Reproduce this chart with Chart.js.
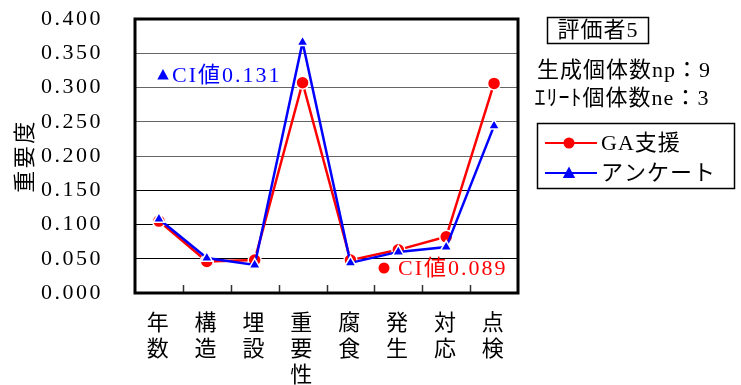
<!DOCTYPE html>
<html>
<head>
<meta charset="utf-8">
<script src="https://cdn.jsdelivr.net/npm/chart.js@4/dist/chart.umd.min.js"></script>
<style>
  html, body { margin: 0; padding: 0; background: #fff; }
  #wrap { width: 741px; height: 385px; }
</style>
</head>
<body>
<div id="wrap"><canvas id="c" width="741" height="385"></canvas></div>
<script>
// Evaluation items (written vertically, one character per line)
const categories = [
  ['年', '数'], ['構', '造'], ['埋', '設'], ['重', '要', '性'],
  ['腐', '食'], ['発', '生'], ['対', '応'], ['点', '検']
];
// Importance weights per item
const gaSupport = [0.105, 0.046, 0.048, 0.307, 0.048, 0.063, 0.082, 0.306];
const survey    = [0.108, 0.051, 0.041, 0.366, 0.044, 0.060, 0.067, 0.244];
// Consistency index of each method
const ciGA = 0.089;
const ciSurvey = 0.131;
// Vertical axis range
const yMin = 0, yMax = 0.4, yStep = 0.05;
// Side panel texts
const evaluatorLabel = '評価者5';
const infoLines = ['生成個体数np：9', 'ｴﾘｰﾄ個体数ne：3'];
const seriesNames = ['GA支援', 'アンケート'];

const RED = '#ff0000', BLUE = '#0000ff';
const SERIF = "'Liberation Serif', 'Noto Sans CJK JP', serif";
const SANS_JP = "'Noto Sans CJK JP', sans-serif";

function drawMarker(ctx, style, x, y, r, color) {
  ctx.save();
  ctx.fillStyle = color;
  ctx.beginPath();
  if (style === 'circle') {
    ctx.arc(x, y, r, 0, Math.PI * 2);
  } else {
    ctx.moveTo(x, y - r);
    ctx.lineTo(x + r * 0.95, y + r * 0.75);
    ctx.lineTo(x - r * 0.95, y + r * 0.75);
    ctx.closePath();
  }
  ctx.fill();
  ctx.restore();
}

const decorations = {
  id: 'decorations',
  beforeDraw(chart) {
    // wider spacing for the axis numerals
    chart.ctx.letterSpacing = '2.5px';
  },
  beforeDatasetsDraw(chart) {
    const { ctx, chartArea: a, scales: { x } } = chart;
    ctx.letterSpacing = '0px';
    // short inward tick marks between categories
    ctx.save();
    ctx.strokeStyle = '#333';
    ctx.lineWidth = 1.5;
    for (let i = 0; i < categories.length - 1; i++) {
      const px = Math.round((x.getPixelForValue(i) + x.getPixelForValue(i + 1)) / 2) + 0.5;
      ctx.beginPath();
      ctx.moveTo(px, a.bottom);
      ctx.lineTo(px, a.bottom - 8);
      ctx.stroke();
    }
    ctx.restore();
  },
  afterDraw(chart) {
    const { ctx, chartArea: a } = chart;
    ctx.save();
    // plot frame
    ctx.strokeStyle = '#000';
    ctx.lineWidth = 3;
    ctx.strokeRect(a.left, a.top, a.right - a.left, a.bottom - a.top);

    ctx.letterSpacing = '2px';
    ctx.textBaseline = 'middle';
    ctx.font = '22px ' + SERIF;

    // consistency index notes
    drawMarker(ctx, 'triangle', a.left + 28, 75, 6, BLUE);
    ctx.fillStyle = BLUE;
    ctx.textAlign = 'left';
    ctx.fillText('CI値' + ciSurvey.toFixed(3), a.left + 37, 76);
    drawMarker(ctx, 'circle', a.left + 249, 268, 5.5, RED);
    ctx.fillStyle = RED;
    ctx.fillText('CI値' + ciGA.toFixed(3), a.left + 263, 269);

    // evaluator box
    ctx.letterSpacing = '1px';
    ctx.fillStyle = '#000';
    ctx.strokeStyle = '#000';
    ctx.lineWidth = 1.5;
    ctx.strokeRect(547.5, 17.5, 101, 26);
    ctx.textAlign = 'center';
    ctx.fillText(evaluatorLabel, 598, 31);
    ctx.fillText(infoLines[0], 624, 71);
    ctx.fillText(infoLines[1], 622, 99);

    // legend
    ctx.strokeRect(537.5, 123.5, 197, 65);
    ctx.textAlign = 'left';
    const rows = [143, 173];
    chart.data.datasets.forEach((ds, i) => {
      const y = rows[i];
      ctx.strokeStyle = ds.borderColor;
      ctx.lineWidth = 2;
      ctx.beginPath();
      ctx.moveTo(545, y);
      ctx.lineTo(597, y);
      ctx.stroke();
      drawMarker(ctx, ds.pointStyle, 569, y, ds.pointStyle === 'circle' ? 5.5 : 6.5, ds.borderColor);
      ctx.fillStyle = '#000';
      ctx.fillText(ds.label, 601, y + 1);
    });
    ctx.restore();
  }
};

new Chart(document.getElementById('c'), {
  type: 'line',
  data: {
    labels: categories,
    datasets: [
      {
        label: seriesNames[0],
        data: gaSupport,
        borderColor: RED,
        backgroundColor: RED,
        borderWidth: 2.5,
        pointStyle: 'circle',
        pointRadius: 6.5,
        pointBorderColor: '#fff',
        pointBorderWidth: 1.5,
        tension: 0,
        order: 2
      },
      {
        label: seriesNames[1],
        data: survey,
        borderColor: BLUE,
        backgroundColor: BLUE,
        borderWidth: 2.5,
        pointStyle: 'triangle',
        pointRadius: 6.5,
        pointBorderColor: '#fff',
        pointBorderWidth: 1.5,
        tension: 0,
        order: 1
      }
    ]
  },
  options: {
    responsive: false,
    animation: false,
    devicePixelRatio: 1,
    layout: { padding: { top: 19, right: 223, bottom: 0, left: 0 } },
    plugins: {
      legend: { display: false },
      tooltip: { enabled: false }
    },
    scales: {
      x: {
        offset: true,
        grid: { display: false, drawTicks: false },
        border: { display: false },
        ticks: {
          color: '#000',
          padding: 16,
          maxRotation: 0,
          autoSkip: false,
          font: { family: SANS_JP, size: 22, lineHeight: '26px' }
        },
        afterFit(scale) { scale.height = 92; }
      },
      y: {
        min: yMin,
        max: yMax,
        border: { display: false },
        grid: {
          drawTicks: true,
          tickLength: 28,
          tickColor: 'rgba(0,0,0,0)',
          lineWidth: 1,
          color: ctx => (ctx.tick && ctx.tick.value <= 0.15 + 1e-9) ? '#000' : '#666'
        },
        ticks: {
          stepSize: yStep,
          color: '#000',
          padding: 4,
          font: { family: SERIF, size: 22 },
          callback: v => v.toFixed(3)
        },
        title: {
          display: true,
          text: '重要度',
          color: '#000',
          padding: { top: 10, bottom: 0 },
          font: { family: SANS_JP, size: 22 }
        },
        afterFit(scale) { scale.width = 135; }
      }
    }
  },
  plugins: [decorations]
});
</script>
</body>
</html>
